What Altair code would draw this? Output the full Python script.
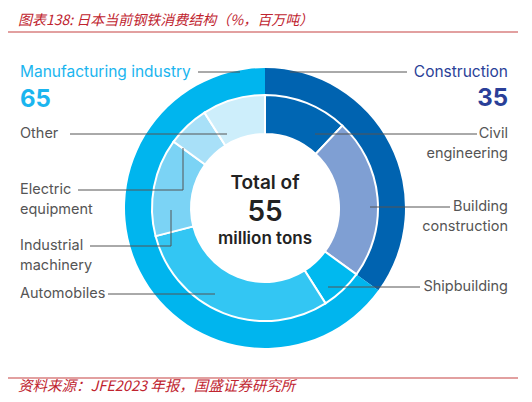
import altair as alt
import pandas as pd

# data
outer_cats = ["Construction", "Manufacturing industry"]
outer_vals = [35, 65]
inner_cats = ["Civil engineering", "Building construction", "Shipbuilding",
              "Automobiles", "Industrial machinery", "Electric equipment", "Other"]
inner_vals = [12, 23, 6, 30, 14, 6, 9]
total = 55

title_txt = "图表138:  日本当前钢铁消费结构（%，百万吨）"
source_txt = "资料来源：JFE2023 年报，国盛证券研究所"

# styles
outer_colors = ["#0063b0", "#00b5ee"]
inner_colors = ["#0066b3", "#7f9fd3", "#00b9ef", "#33c6f3", "#7bd3f5", "#a8e0f8", "#cdeefb"]
CX, CY = 257, 200
FONT = "Inter"

outer = pd.DataFrame({"cat": outer_cats, "value": outer_vals, "idx": range(len(outer_cats))})
inner = pd.DataFrame({"cat": inner_cats, "value": inner_vals, "idx": range(len(inner_cats))})

color_scale = alt.Scale(domain=outer_cats + inner_cats, range=outer_colors + inner_colors)


def ring(df, r0, r1, stroke_w):
    return alt.Chart(df).mark_arc(
        innerRadius=r0, outerRadius=r1, stroke="white", strokeWidth=stroke_w
    ).encode(
        theta=alt.Theta("value:Q", stack=True),
        order=alt.Order("idx:Q"),
        color=alt.Color("cat:N", scale=color_scale, legend=None),
        x=alt.value(CX),
        y=alt.value(CY),
    )


outer_ring = ring(outer, 113, 140, 0)
inner_ring = ring(inner, 74, 113, 2)

# leader lines (pixel layout)
leaders = pd.DataFrame({
    "x": [190, 282, 62, 70, 175, 82, 163, 100, 307, 362, 320],
    "x2": [232, 399, 219, 175, 175, 163, 163, 207, 469, 442, 412],
    "y": [64, 64, 126, 182, 182, 238, 238, 286, 126, 199, 279],
    "y2": [64, 64, 126, 182, 140, 238, 202, 286, 126, 199, 279],
})
lines = alt.Chart(leaders).mark_rule(color="#555555", strokeWidth=1).encode(
    x=alt.X("x:Q", scale=None), x2="x2:Q",
    y=alt.Y("y:Q", scale=None), y2="y2:Q",
)

px = lambda f: alt.X(f, scale=None)
py = lambda f: alt.Y(f, scale=None)

left_lbl = pd.DataFrame({
    "t": [["Other"], ["Electric", "equipment"], ["Industrial", "machinery"], ["Automobiles"]],
    "x": [12, 12, 12, 12],
    "y": [126, 182, 238, 286],
})
right_lbl = pd.DataFrame({
    "t": [["Civil", "engineering"], ["Building", "construction"], ["Shipbuilding"]],
    "x": [500, 500, 500],
    "y": [126, 199, 279],
})
lbl_style = dict(fontSize=14.5, font=FONT, color="#555555", baseline="middle", lineHeight=20)
left_text = alt.Chart(left_lbl).mark_text(align="left", **lbl_style).encode(
    x=px("x:Q"), y=py("y:Q"), text="t")
right_text = alt.Chart(right_lbl).mark_text(align="right", **lbl_style).encode(
    x=px("x:Q"), y=py("y:Q"), text="t")

grp = pd.DataFrame({
    "name": outer_cats, "val": [str(v) for v in outer_vals],
    "x": [500, 12],
})
grp_name_l = alt.Chart(grp.iloc[[1]]).mark_text(
    align="left", baseline="middle", fontSize=15.5, font=FONT, color="#1ab5ef"
).encode(x=px("x:Q"), y=alt.value(64), text="name:N")
grp_val_l = alt.Chart(grp.iloc[[1]]).mark_text(
    align="left", baseline="middle", fontSize=24, fontWeight="bold", font=FONT, color="#1ab5ef"
).encode(x=px("x:Q"), y=alt.value(92), text="val:N")
grp_name_r = alt.Chart(grp.iloc[[0]]).mark_text(
    align="right", baseline="middle", fontSize=15.5, font=FONT, color="#2a3f98"
).encode(x=px("x:Q"), y=alt.value(64), text="name:N")
grp_val_r = alt.Chart(grp.iloc[[0]]).mark_text(
    align="right", baseline="middle", fontSize=24, fontWeight="bold", font=FONT, color="#2a3f98"
).encode(x=px("x:Q"), y=alt.value(91), text="val:N")

center = pd.DataFrame({"a": ["Total of"], "b": [str(total)], "c": ["million tons"]})
c_style = dict(align="center", baseline="middle", font=FONT, color="#222222")
c1 = alt.Chart(center).mark_text(fontSize=19, fontWeight=600, **c_style).encode(
    x=alt.value(CX), y=alt.value(175), text="a:N")
c2 = alt.Chart(center).mark_text(fontSize=28, fontWeight=600, **c_style).encode(
    x=alt.value(CX), y=alt.value(205), text="b:N")
c3 = alt.Chart(center).mark_text(fontSize=17, fontWeight=600, **c_style).encode(
    x=alt.value(CX), y=alt.value(231), text="c:N")

# header / footer
hf_style = dict(align="left", fontStyle="italic", font="Noto Sans CJK SC", color="#c0242f")
title_text = alt.Chart(pd.DataFrame({"t": [title_txt]})).mark_text(
    baseline="alphabetic", fontSize=14, **hf_style
).encode(x=alt.value(10), y=alt.value(17), text="t:N")
source_text = alt.Chart(pd.DataFrame({"t": [source_txt]})).mark_text(
    baseline="bottom", fontSize=14.5, **hf_style
).encode(x=alt.value(10), y=alt.value(386), text="t:N")
hf_rules = alt.Chart(pd.DataFrame({"y": [24, 370]})).mark_rule(
    color="#d98080", strokeWidth=1.5
).encode(x=alt.value(-3), x2=alt.value(510), y=py("y:Q"))

chart = alt.layer(
    outer_ring, inner_ring, lines, left_text, right_text,
    grp_name_l, grp_val_l, grp_name_r, grp_val_r, c1, c2, c3,
    title_text, source_text, hf_rules,
).properties(
    width=516, height=386, padding=0, autosize=alt.AutoSizeParams(type="none")
).configure_view(stroke=None)

chart.save("out.html", embed_options={"renderer": "svg", "actions": False})
